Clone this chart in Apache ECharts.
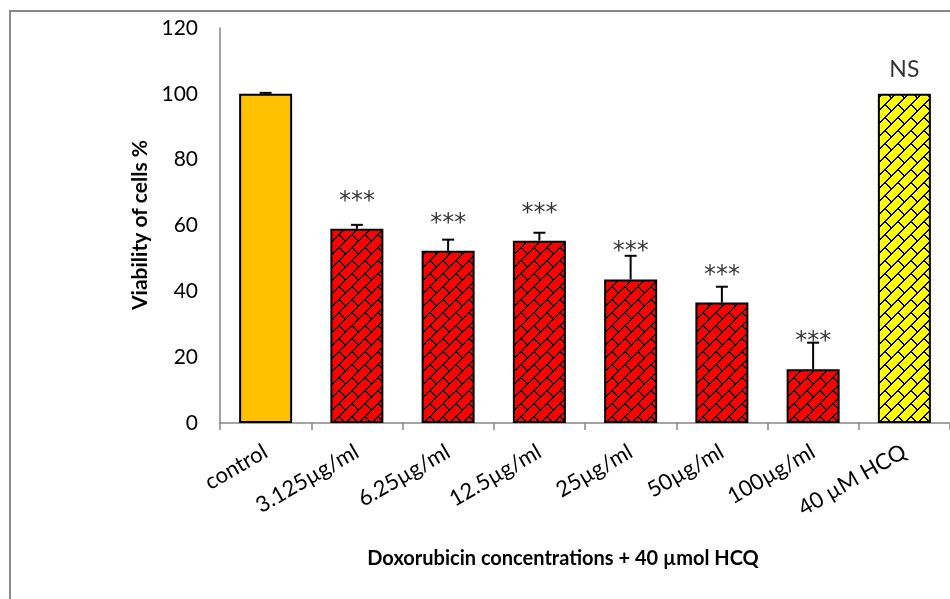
<!DOCTYPE html>
<html><head><meta charset="utf-8">
<script src="https://cdn.jsdelivr.net/npm/echarts@6/dist/echarts.min.js"></script>
<style>html,body{margin:0;padding:0;background:#fff}#c{width:950px;height:599px}</style>
</head><body><div id="c"></div>
<script>
const categories = ['control','3.125µg/ml','6.25µg/ml','12.5µg/ml','25µg/ml','50µg/ml','100µg/ml','40 µM HCQ'];
const viability = [100, 59.0, 52.3, 55.4, 43.6, 36.6, 16.3, 100];
const errors = [0.3, 1.2, 3.4, 2.4, 7.2, 4.8, 8.1, null];
const sigLabels = ['', '***', '***', '***', '***', '***', '***', 'NS'];
const sigY = [null, 68, 61.4, 64.4, 52.9, 45.7, 25.5, 108.2];
const yTicks = [0, 20, 40, 60, 80, 100, 120];

function makePattern(bg){
  const P = 13, T = 26;
  const c = document.createElement('canvas'); c.width = T; c.height = T;
  const ctx = c.getContext('2d');
  const img = ctx.createImageData(T, T);
  const r = parseInt(bg.slice(1,3),16), g = parseInt(bg.slice(3,5),16), b = parseInt(bg.slice(5,7),16);
  for (let y = 0; y < T; y++) for (let x = 0; x < T; x++) {
    const s = x + y;
    const band = Math.floor(s / P) % 2;
    const d = ((x - y) % T + T) % T;
    const t = band ? P : 0;
    let black = (s % P === 0) || (s % P === 1);
    if (d === t || d === (t + 1) % T) black = true;
    const i = (y * T + x) * 4;
    if (black) { img.data[i]=0; img.data[i+1]=0; img.data[i+2]=0; }
    else { img.data[i]=r; img.data[i+1]=g; img.data[i+2]=b; }
    img.data[i+3] = 255;
  }
  ctx.putImageData(img, 0, 0);
  return c;
}
const redPat = {image: makePattern('#FF0000'), repeat: 'repeat'};
const yellowPat = {image: makePattern('#FFFF00'), repeat: 'repeat'};

const barData = viability.map((v, i) => ({
  value: v,
  itemStyle: {
    color: i === 0 ? '#FFC000' : (i === categories.length - 1 ? yellowPat : redPat),
    borderColor: '#000', borderWidth: 2
  }
}));
const errData = viability.map((v, i) => [i, v, errors[i]]).filter(d => d[2] != null);
const FONT = 'Lato, "Liberation Sans", sans-serif';
const sigData = sigY.map((y, i) => y == null ? null : {
  value: [i, y],
  label: sigLabels[i] === 'NS'
    ? {formatter: sigLabels[i], fontFamily: FONT, fontSize: 23}
    : {formatter: sigLabels[i]}
}).filter(d => d);

const chart = echarts.init(document.getElementById('c'), null, {renderer: 'canvas'});
chart.setOption({
  animation: false,
  backgroundColor: '#fff',
  grid: {left: 220, top: 28, width: 739, height: 395, containLabel: false},
  xAxis: {
    type: 'category', data: categories, boundaryGap: true,
    axisLine: {lineStyle: {color: '#868686', width: 1.5}},
    axisTick: {show: true, length: 7, lineStyle: {color: '#868686', width: 1.5}},
    axisLabel: {rotate: 30, fontSize: 22, color: '#000', fontFamily: FONT, margin: 27, interval: 0}
  },
  yAxis: {
    type: 'value', min: yTicks[0], max: yTicks[yTicks.length-1], interval: 20,
    axisLine: {show: true, lineStyle: {color: '#868686', width: 1.5}},
    axisTick: {show: false}, splitLine: {show: false},
    axisLabel: {fontSize: 21, color: '#000', fontFamily: FONT, margin: 22}
  },
  graphic: [
    {type: 'rect', shape: {x: 10, y: 11, width: 1000, height: 1000}, style: {fill: null, stroke: '#888', lineWidth: 2}, silent: true},
    {type: 'text', x: 563, y: 559, style: {text: 'Doxorubicin concentrations + 40 µmol HCQ', font: 'bold 20px ' + FONT, fill: '#000', textAlign: 'center', textVerticalAlign: 'middle'}},
    {type: 'text', x: 140, y: 225, rotation: Math.PI/2, style: {text: 'Viability of cells %', font: 'bold 21px ' + FONT, fill: '#000', textAlign: 'center', textVerticalAlign: 'middle'}}
  ],
  series: [
    {type: 'bar', data: barData, barWidth: 53},
    {type: 'custom', data: errData, z: 5,
      renderItem: function(params, api){
        const x = api.value(0), v = api.value(1), e = api.value(2);
        const p0 = api.coord([x, v]), p1 = api.coord([x, v + e]);
        const cap = 6;
        return {type: 'group', children: [
          {type: 'line', shape: {x1: p0[0], y1: p0[1], x2: p1[0], y2: p1[1]}, style: {stroke: '#000', lineWidth: 2}},
          {type: 'line', shape: {x1: p1[0]-cap, y1: p1[1], x2: p1[0]+cap, y2: p1[1]}, style: {stroke: '#000', lineWidth: 2}}
        ]};
      }
    },
    {type: 'scatter', data: sigData, symbolSize: 0, z: 6,
      label: {show: true, position: 'inside', fontSize: 24, color: '#000', fontFamily: '"DejaVu Sans", sans-serif', offset: [0, 3]}}
  ]
});
</script></body></html>
